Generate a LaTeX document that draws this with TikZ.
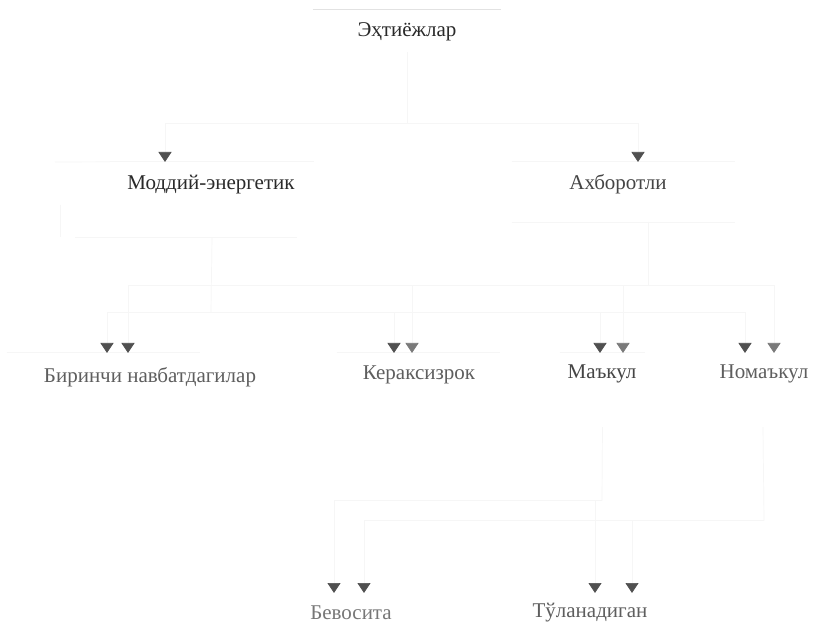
\documentclass[tikz,border=0pt]{standalone}
\usepackage{fontspec}
\setmainfont{Liberation Serif}
\usetikzlibrary{arrows.meta}
\definecolor{inkA}{HTML}{2A2A2A}
\definecolor{inkB}{HTML}{454545}
\definecolor{inkC}{HTML}{5E5E5E}
\definecolor{inkD}{HTML}{777777}
\definecolor{tipA}{HTML}{505050}
\definecolor{tipB}{HTML}{7A7A7A}
\definecolor{faint}{HTML}{F6F6F6}
\definecolor{edge}{HTML}{E2E2E2}
\tikzset{
  caption/.style={font=\fontsize{21}{24}\selectfont, inner sep=0pt},
  frame/.style={draw=none, inner sep=0pt},
  wire/.style={draw=faint, line width=0.7pt},
  rim/.style={draw=edge, line width=0.8pt},
  tipd/.style={-{Triangle[width=13pt,length=10pt,color=tipA]}},
  tipl/.style={-{Triangle[width=13pt,length=10pt,color=tipB]}},
}
\begin{document}
\begin{tikzpicture}[x=1pt,y=-1pt]
\useasboundingbox (0,0) rectangle (814,628);
\fill[white] (0,0) rectangle (814,628);

% frames (mostly faded) and their captions
\node[frame, minimum width=188pt, minimum height=42pt] (need) at (407,31) {};
\node[caption, text=inkA] (needt) at (407,32) {Эҳтиёжлар};
\node[frame, minimum width=204pt, minimum height=75pt] (mat) at (212,199.5) {};
\node[caption, text=inkA] (matt) at (211,185) {Моддий-энергетик};
\node[frame, minimum width=223pt, minimum height=60pt] (inf) at (623.5,192) {};
\node[caption, text=inkB] (inft) at (618,184) {Ахборотли};

\node[frame, minimum width=286pt, minimum height=74pt] (fst) at (150,390) {};
\node[caption, text=inkC] (fstt) at (150,377) {Биринчи навбатдагилар};
\node[frame, minimum width=163pt, minimum height=74pt] (unn) at (418.5,390) {};
\node[caption, text=inkC] (unnt) at (419,375) {Кераксизрок};
\node[frame, minimum width=85pt, minimum height=74pt] (acc) at (602.5,390) {};
\node[caption, text=inkB] (acct) at (602,374) {Маъкул};
\node[frame, minimum width=100pt, minimum height=74pt] (rej) at (763,390) {};
\node[caption, text=inkC] (rejt) at (764,374) {Номаъкул};

\node[frame, minimum width=102pt, minimum height=40pt] (dir) at (351,613) {};
\node[caption, text=inkD] (dirt) at (351,613) {Бевосита};
\node[frame, minimum width=135pt, minimum height=40pt] (paid) at (591,613) {};
\node[caption, text=inkC] (paidt) at (590,613) {Тўланадиган};

% frame edges that still show
\draw[rim] (need.north west) -- (need.north east);
\draw[wire] (mat.north west) -- (mat.north east);
\draw[wire] (55,162) -- (mat.north west);
\draw[wire] (inf.north west) -- (inf.north east);
\draw[wire] (inf.south west) -- (inf.south east);
\draw[wire] (75,237) -- (297,237);
\draw[wire] (60,205) -- (60,237);
\draw[wire] (acc.north west) -- (acc.north east);
\draw[wire] (fst.north west) -- (fst.north -| 200,0);
\draw[wire] (unn.north west) -- (unn.north east);

% arrow end points on the frame tops
\coordinate (m1) at (165,162);
\coordinate (i1) at (638,162);
\coordinate (f1) at (107,353);  \coordinate (f2) at (128,353);
\coordinate (u1) at (394,353);  \coordinate (u2) at (412,353);
\coordinate (a1) at (600,353);  \coordinate (a2) at (623,353);
\coordinate (r1) at (745,353);  \coordinate (r2) at (774,353);
\coordinate (d1) at (334,593);  \coordinate (d2) at (364,593);
\coordinate (p1) at (595,593);  \coordinate (p2) at (632,593);
\coordinate (busTop) at (407,123);
\coordinate (busM) at (211,312);
\coordinate (infOut) at (648,222);
\coordinate (busI) at (648,285);
\coordinate (busA) at (602,500);
\coordinate (busR) at (764,520);

% first level
\draw[wire] (need.south) -- (busTop);
\draw[wire,tipd] (busTop) -| (m1);
\draw[wire,tipd] (busTop) -| (i1);

% second level: material needs
\draw[wire] (mat.south) -- (busM);
\draw[wire,tipd] (busM) -| (f1);
\draw[wire,tipd] (busM) -| (u1);
\draw[wire,tipd] (busM) -| (a1);
\draw[wire,tipd] (busM) -| (r1);

% second level: information needs
\draw[wire] (infOut) -- (busI);
\draw[wire,tipd] (busI) -| (f2);
\draw[wire,tipl] (busI) -| (u2);
\draw[wire,tipl] (busI) -| (a2);
\draw[wire,tipl] (busI) -| (r2);

% third level
\draw[wire] (acc.south) -- (busA);
\draw[wire,tipd] (busA) -| (d1);
\draw[wire,tipd] (busA) -| (p1);
\draw[wire] (rej.south) -- (busR);
\draw[wire,tipd] (busR) -| (d2);
\draw[wire,tipd] (busR) -| (p2);
\end{tikzpicture}
\end{document}
